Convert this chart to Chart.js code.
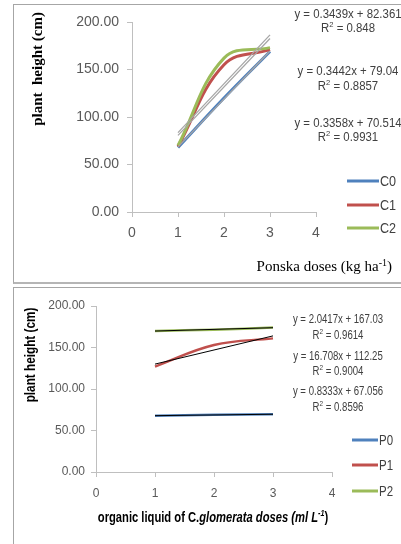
<!DOCTYPE html>
<html>
<head>
<meta charset="utf-8">
<script src="https://cdn.jsdelivr.net/npm/chart.js@4.4.0/dist/chart.umd.min.js"></script>
<style>
body{margin:0;background:#fff;}
#wrap{position:relative;width:401px;height:544px;overflow:hidden;}
.box{position:absolute;border:1px solid #a6a6a6;}
canvas{position:absolute;left:0;}
</style>
</head>
<body>
<div id="wrap">
  <div class="box" style="left:13px;top:4px;width:400px;height:277px;border-bottom:2px solid #b5b5b5"></div>
  <div class="box" style="left:13px;top:287px;width:400px;height:270px"></div>
  <canvas id="topChart" width="401" height="285" style="top:0"></canvas>
  <canvas id="bottomChart" width="401" height="259" style="top:285px"></canvas>
</div>
<script>
// top chart: Ponska doses
const ponskaDoses = [1, 2, 3];
const c0 = [68, 120, 169];
const c1 = [69, 155, 171];
const c2 = [70, 162, 173];
const topNames = ['C0', 'C1', 'C2'];
const topEquations = ['y = 0.3439x + 82.361', 'y = 0.3442x + 79.04', 'y = 0.3358x + 70.514'];
const topR2 = ['0.848', '0.8857', '0.9931'];

// bottom chart: C.glomerata doses
const glomerataDoses = [1, 2, 3];
const p0 = [67.8, 68.9, 69.5];
const p1 = [127, 153, 161];
const p2 = [170, 171.5, 174];
const bottomNames = ['P0', 'P1', 'P2'];
const bottomEquations = ['y = 2.0417x + 167.03', 'y = 16.708x + 112.25', 'y = 0.8333x + 67.056'];
const bottomR2 = ['0.9614', '0.9004', '0.8596'];

const yTicks = [0, 50, 100, 150, 200];
const xTicks = [0, 1, 2, 3, 4];

const colors = ['#4F81BD', '#C0504D', '#9BBB59'];

function pts(xs, ys) {
    return xs.map((x, i) => ({x: x, y: ys[i]}));
}

// linear trendline, like excel
function trend(xs, ys) {
    const n = xs.length;
    const mx = xs.reduce((a, b) => a + b, 0) / n;
    const my = ys.reduce((a, b) => a + b, 0) / n;
    let sxy = 0, sxx = 0;
    for (let i = 0; i < n; i++) {
        sxy += (xs[i] - mx) * (ys[i] - my);
        sxx += (xs[i] - mx) * (xs[i] - mx);
    }
    const b = sxy / sxx;
    const a = my - b * mx;
    return [{x: xs[0], y: a + b * xs[0]}, {x: xs[n - 1], y: a + b * xs[n - 1]}];
}

// draws text made of pieces (normal / superscript), sx squeezes it horizontally
function rich(ctx, parts, x, y, align, sx) {
    sx = sx || 1;
    let w = 0;
    parts.forEach(p => { ctx.font = p.font; w += ctx.measureText(p.t).width; });
    let cx = align === 'center' ? -w / 2 : (align === 'right' ? -w : 0);
    ctx.save();
    ctx.translate(x, y);
    ctx.scale(sx, 1);
    ctx.textAlign = 'left';
    ctx.textBaseline = 'middle';
    parts.forEach(p => {
        ctx.font = p.font;
        ctx.fillText(p.t, cx, p.sup ? -4 : 0);
        cx += ctx.measureText(p.t).width;
    });
    ctx.restore();
}

function axes(yWidth, xHeight, tickFont, xPad, yPad) {
    const common = {
        grid: {drawOnChartArea: false, drawTicks: true, tickLength: 5, color: '#bfbfbf'},
        border: {display: true, color: '#bfbfbf'}
    };
    return {
        x: Object.assign({}, common, {
            type: 'linear', min: xTicks[0], max: xTicks[xTicks.length - 1],
            afterBuildTicks: s => { s.ticks = xTicks.map(v => ({value: v})); },
            ticks: {color: '#595959', font: tickFont, padding: xPad, maxRotation: 0},
            afterFit: s => { s.height = xHeight; }
        }),
        y: Object.assign({}, common, {
            min: yTicks[0], max: yTicks[yTicks.length - 1],
            afterBuildTicks: s => { s.ticks = yTicks.map(v => ({value: v})); },
            ticks: {color: '#595959', font: tickFont, padding: yPad, callback: v => v.toFixed(2)},
            afterFit: s => { s.width = yWidth; }
        })
    };
}

function makeChart(id, xs, series, trendColor, trendWidth, lineWidth, layout, decor) {
    const ds = [];
    series.forEach(ys => {
        ds.push({data: trend(xs, ys), borderColor: trendColor, borderWidth: trendWidth, pointRadius: 0, tension: 0});
    });
    series.slice().reverse().forEach((ys, k) => {
        const i = series.length - 1 - k;
        ds.push({data: pts(xs, ys), borderColor: colors[i], borderWidth: lineWidth, pointRadius: 0, tension: 0.4});
    });
    return new Chart(document.getElementById(id), {
        type: 'line',
        data: {datasets: ds},
        options: {
            responsive: false,
            animation: false,
            layout: {padding: layout.padding},
            plugins: {legend: {display: false}, tooltip: {enabled: false}},
            scales: axes(layout.yWidth, layout.xHeight, layout.tickFont, layout.xPad, layout.yPad)
        },
        plugins: [{id: 'decor', afterDraw: c => decor(c.ctx)}]
    });
}

// top chart
makeChart('topChart', ponskaDoses, [c0, c1, c2], '#a6a6a6', 1.3, 3,
    {padding: {top: 22, right: 85, left: 0, bottom: 0}, yWidth: 132, xHeight: 73,
     tickFont: {family: 'Liberation Sans', size: 14}, xPad: 8, yPad: 8},
    ctx => {
        ctx.save();
        ctx.fillStyle = '#000';
        // y title
        ctx.translate(38, 69);
        ctx.rotate(-Math.PI / 2);
        ctx.font = 'bold 15px "Liberation Serif"';
        ctx.textAlign = 'center';
        ctx.textBaseline = 'middle';
        ctx.fillText('plant  height (cm)', 0, 0);
        ctx.restore();
        ctx.save();
        ctx.fillStyle = '#000';
        const serif = '15px "Liberation Serif"';
        const serifSm = '10px "Liberation Serif"';
        rich(ctx, [{t: 'Ponska doses (kg ha', font: serif}, {t: '-1', font: serifSm, sup: true}, {t: ')', font: serif}], 392, 267, 'right');
        // equations
        ctx.fillStyle = '#404040';
        const eqY = [[15, 29], [72, 87], [124, 138]];
        const f = '12px "Liberation Sans"';
        const fs = '8px "Liberation Sans"';
        eqY.forEach((yy, i) => {
            rich(ctx, [{t: topEquations[i], font: f}], 348, yy[0], 'center', 0.95);
            rich(ctx, [{t: 'R', font: f}, {t: '2', font: fs, sup: true}, {t: ' = ' + topR2[i], font: f}], 348, yy[1], 'center', 0.95);
        });
        // legend
        const legY = [181, 205, 228];
        legY.forEach((y, i) => {
            ctx.strokeStyle = colors[i];
            ctx.lineWidth = 3;
            ctx.beginPath();
            ctx.moveTo(347, y);
            ctx.lineTo(379, y);
            ctx.stroke();
            ctx.fillStyle = '#404040';
            rich(ctx, [{t: topNames[i], font: '14px "Liberation Sans"'}], 380, y + 1, 'left', 0.9);
        });
        ctx.restore();
    });

// bottom chart
makeChart('bottomChart', glomerataDoses, [p0, p1, p2], '#000', 1, 2.5,
    {padding: {top: 21, right: 69, left: 0, bottom: 0}, yWidth: 96, xHeight: 72,
     tickFont: {family: 'Liberation Sans', size: 12}, xPad: 9, yPad: 6},
    ctx => {
        ctx.save();
        ctx.fillStyle = '#000';
        ctx.translate(31, 70);
        ctx.rotate(-Math.PI / 2);
        rich(ctx, [{t: 'plant height (cm)', font: 'bold 14px "Liberation Sans"'}], 0, 0, 'center', 0.84);
        ctx.restore();
        ctx.save();
        ctx.fillStyle = '#000';
        const b = 'bold 14px "Liberation Sans"';
        const bi = 'italic bold 14px "Liberation Sans"';
        const bs = 'italic bold 9px "Liberation Sans"';
        rich(ctx, [{t: 'organic liquid of C.', font: b}, {t: 'glomerata doses (ml L', font: bi},
                   {t: '-1', font: bs, sup: true}, {t: ')', font: b}], 213, 233, 'center', 0.8);
        ctx.fillStyle = '#404040';
        const eqY = [[35, 51], [72, 87], [107, 123]];
        const f = '12px "Liberation Sans"';
        const fs = '8px "Liberation Sans"';
        eqY.forEach((yy, i) => {
            rich(ctx, [{t: bottomEquations[i], font: f}], 338, yy[0], 'center', 0.8);
            rich(ctx, [{t: 'R', font: f}, {t: '2', font: fs, sup: true}, {t: ' = ' + bottomR2[i], font: f}], 338, yy[1], 'center', 0.8);
        });
        const legY = [155, 180, 206];
        legY.forEach((y, i) => {
            ctx.strokeStyle = colors[i];
            ctx.lineWidth = 3;
            ctx.beginPath();
            ctx.moveTo(352, y);
            ctx.lineTo(378, y);
            ctx.stroke();
            ctx.fillStyle = '#404040';
            rich(ctx, [{t: bottomNames[i], font: '14px "Liberation Sans"'}], 379, y + 1, 'left', 0.82);
        });
        ctx.restore();
    });
</script>
</body>
</html>
